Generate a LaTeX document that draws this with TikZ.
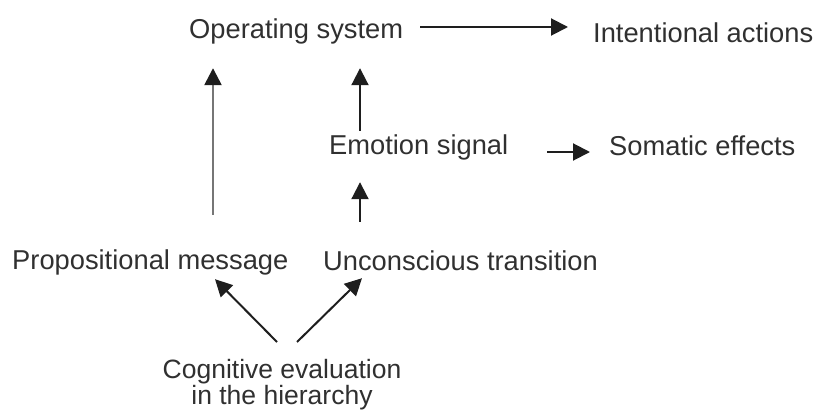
\documentclass[tikz,border=0pt]{standalone}
\usepackage{fontspec}
\setmainfont{Liberation Sans}
\usetikzlibrary{arrows.meta,calc}
\definecolor{txt}{HTML}{303030}
\definecolor{ln}{HTML}{1E1E1E}
\definecolor{lngray}{HTML}{767676}
\begin{document}
\begin{tikzpicture}[x=1pt,y=1pt,
  lbl/.style={inner sep=0pt, anchor=base west, text=txt,
    font=\fontsize{27.3}{30}\selectfont, text height=20pt, text depth=6pt},
  arr/.style={draw=ln, line width=2pt, -{Triangle[length=17pt,width=17pt,color=ln]}}]
\useasboundingbox (0,0) rectangle (816,416);
\node[lbl] (os) at (189,377) {Operating system};
\node[lbl] (ia) at (593,373) {Intentional actions};
\node[lbl] (es) at (329,262) {Emotion signal};
\node[lbl] (se) at (609,261) {Somatic effects};
\node[lbl] (pm) at (12,147) {Propositional message};
\node[lbl] (ut) at (323,146) {Unconscious transition};
\node[inner sep=0pt, anchor=base, text=txt, align=center,
  font=\fontsize{26.5}{24.5}\selectfont] (ce) at (282,12)
  {Cognitive evaluation\\in the hierarchy};
\coordinate (lx) at (213,0);
\coordinate (mx) at (360,0);
\coordinate (ty) at (0,389);
\coordinate (sy) at (0,264);
% top horizontal
\draw[arr, shorten <=17pt, shorten >=25pt] (os.east |- ty) -- (ia.west |- ty);
% somatic
\draw[arr, shorten <=39pt, shorten >=19pt] (es.east |- sy) -- (se.west |- sy);
% left long vertical
\draw[arr, draw=lngray, line width=2.5pt, shorten <=34pt, shorten >=23pt]
  (pm.north -| lx) -- (os.south -| lx);
% emotion -> operating
\draw[arr, shorten <=3pt, shorten >=23pt] (es.north -| mx) -- (os.south -| mx);
% unconscious -> emotion
\draw[arr, shorten <=28pt, shorten >=22pt] (ut.north -| mx) -- (es.south -| mx);
% diagonals
\draw[arr] ($(ce.base)+(-5,62)$) -- ($(pm.south -| lx)+(2,-4)$);
\draw[arr] ($(ce.base)+(15,62)$) -- ($(ut.south -| mx)+(2,-2)$);
\end{tikzpicture}
\end{document}
